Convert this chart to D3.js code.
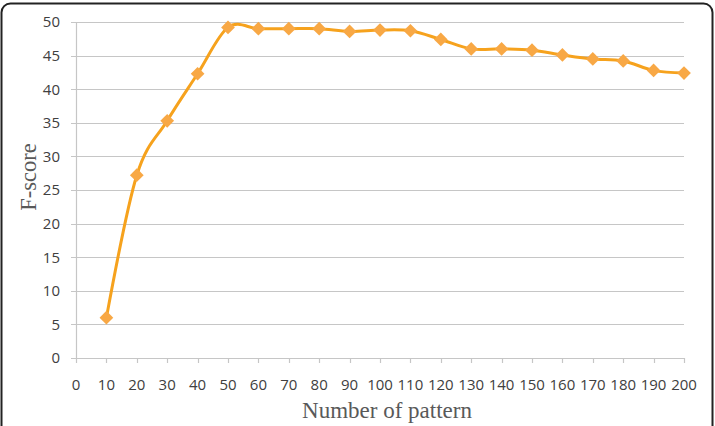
<!DOCTYPE html>
<html>
<head>
<meta charset="utf-8">
<script src="https://cdn.jsdelivr.net/npm/d3@7"></script>
<style>
  body { margin: 0; background: #fff; }
  svg { display: block; }
</style>
</head>
<body>
<svg id="chart"></svg>
<script>
const patterns = [10, 20, 30, 40, 50, 60, 70, 80, 90, 100, 110, 120, 130, 140, 150, 160, 170, 180, 190, 200];
const fScores = [6.0, 27.2, 35.3, 42.3, 49.2, 49.0, 49.0, 49.0, 48.6, 48.8, 48.7, 47.4, 46.0, 46.0, 45.8, 45.1, 44.5, 44.2, 42.8, 42.4];
const xTicks = d3.range(0, 201, 10);
const yTicks = [0, 5, 10, 15, 20, 25, 30, 35, 40, 45, 50];

const width = 715, height = 426;
const margin = { top: 22, right: 31, bottom: 68, left: 76 };

const svg = d3.select("#chart").attr("width", width).attr("height", height);

// outer rounded frame
svg.append("rect")
  .attr("x", 1.5).attr("y", 3.5)
  .attr("width", 711).attr("height", 460)
  .attr("rx", 9)
  .attr("fill", "none")
  .attr("stroke", "#222")
  .attr("stroke-width", 2);

const x = d3.scaleLinear().domain([0, 200]).range([margin.left, width - margin.right]);
const y = d3.scaleLinear().domain([0, 50]).range([height - margin.bottom, margin.top]);

// gridlines (extend left as ticks)
svg.append("g")
  .selectAll("line")
  .data(yTicks)
  .join("line")
  .attr("x1", margin.left - 5)
  .attr("x2", x(200))
  .attr("y1", d => Math.round(y(d)) + 0.5)
  .attr("y2", d => Math.round(y(d)) + 0.5)
  .attr("stroke", "#c6c6c6")
  .attr("stroke-width", 1.2);

// y axis line
svg.append("line")
  .attr("x1", margin.left + 0.5).attr("x2", margin.left + 0.5)
  .attr("y1", y(50)).attr("y2", y(0))
  .attr("stroke", "#c6c6c6").attr("stroke-width", 1.2);

// x ticks
svg.append("g")
  .selectAll("line")
  .data(xTicks)
  .join("line")
  .attr("x1", d => Math.round(x(d)) + 0.5)
  .attr("x2", d => Math.round(x(d)) + 0.5)
  .attr("y1", y(0))
  .attr("y2", y(0) + 5)
  .attr("stroke", "#c6c6c6").attr("stroke-width", 1.2);

// y tick labels
svg.append("g")
  .selectAll("text")
  .data(yTicks)
  .join("text")
  .attr("x", margin.left - 16)
  .attr("y", d => y(d))
  .attr("dy", "0.36em")
  .attr("text-anchor", "end")
  .attr("font-family", "Open Sans, sans-serif")
  .attr("font-size", 15)
  .attr("fill", "#404040")
  .text(d => d);

// x tick labels
svg.append("g")
  .selectAll("text")
  .data(xTicks)
  .join("text")
  .attr("x", d => x(d))
  .attr("y", y(0) + 27)
  .attr("dy", "0.36em")
  .attr("text-anchor", "middle")
  .attr("font-family", "Open Sans, sans-serif")
  .attr("font-size", 15)
  .attr("fill", "#404040")
  .text(d => d);

// axis titles
svg.append("text")
  .attr("x", 387)
  .attr("y", 418)
  .attr("text-anchor", "middle")
  .attr("font-family", "Liberation Serif, serif")
  .attr("font-size", 23)
  .attr("fill", "#595959")
  .text("Number of pattern");

svg.append("text")
  .attr("transform", "translate(36,177) rotate(-90)")
  .attr("text-anchor", "middle")
  .attr("font-family", "Liberation Serif, serif")
  .attr("font-size", 22.5)
  .attr("fill", "#595959")
  .text("F-score");

// clip to plot area
svg.append("clipPath").attr("id", "plotClip")
  .append("rect")
  .attr("x", margin.left).attr("y", y(50) - 1.5)
  .attr("width", x(200) - margin.left + 10)
  .attr("height", y(0) - y(50) + 1.5);

const data = patterns.map((p, i) => ({ p, v: fScores[i] }));

const line = d3.line()
  .x(d => x(d.p))
  .y(d => y(d.v))
  .curve(d3.curveCatmullRom.alpha(0));

svg.append("path")
  .datum(data)
  .attr("clip-path", "url(#plotClip)")
  .attr("d", line)
  .attr("fill", "none")
  .attr("stroke", "#f6a21d")
  .attr("stroke-width", 3);

const diamond = d3.symbol().type(d3.symbolDiamond2).size(120);

svg.append("g")
  .selectAll("path")
  .data(data)
  .join("path")
  .attr("transform", d => `translate(${x(d.p)},${y(d.v)})`)
  .attr("d", diamond)
  .attr("fill", "#f8a845");
</script>
</body>
</html>
